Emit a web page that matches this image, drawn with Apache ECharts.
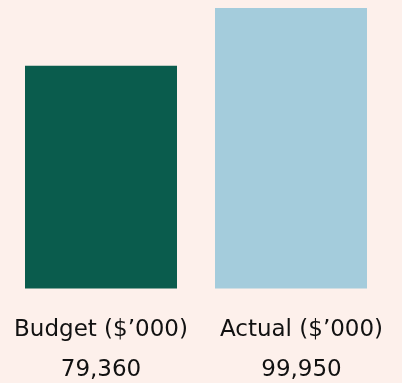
<!DOCTYPE html>
<html>
<head>
<meta charset="utf-8">
<script src="https://cdn.jsdelivr.net/npm/echarts@6/dist/echarts.min.js"></script>
<style>
  html, body { margin: 0; padding: 0; background: #fdf0eb; }
  #chart { width: 402px; height: 383px; }
</style>
</head>
<body>
<div id="chart"></div>
<script>
// Budget vs actual spend, in thousands of dollars
const categories = ['Budget ($’000)', 'Actual ($’000)'];
const values = [79360, 99950];
const barColors = ['#0a5c4d', '#a4ccdc'];

const fmt = v => v.toLocaleString('en-US');

const chart = echarts.init(document.getElementById('chart'), null, { renderer: 'canvas' });

chart.setOption({
  backgroundColor: '#fdf0eb',
  animation: false,
  grid: {
    left: 6, right: 16, top: 8, bottom: 94.5,
    containLabel: false,
    outerBoundsMode: 'none'
  },
  xAxis: {
    type: 'category',
    data: categories.map((c, i) => ({
      value: c,
      textStyle: i === 1 ? { padding: [0, 0, 0, 21] } : {}
    })),
    axisLine: { show: false },
    axisTick: { show: false },
    axisLabel: {
      interval: 0,
      margin: 22,
      color: '#111111',
      fontFamily: 'DejaVu Sans',
      fontSize: 23,
      lineHeight: 40,
      formatter: (c, i) => c + '\n' + fmt(values[i])
    }
  },
  yAxis: {
    type: 'value',
    min: 0,
    max: 'dataMax',
    show: false,
    splitLine: { show: false }
  },
  series: [{
    type: 'bar',
    barWidth: 152,
    data: values.map((v, i) => ({ value: v, itemStyle: { color: barColors[i] } }))
  }]
});
</script>
</body>
</html>
